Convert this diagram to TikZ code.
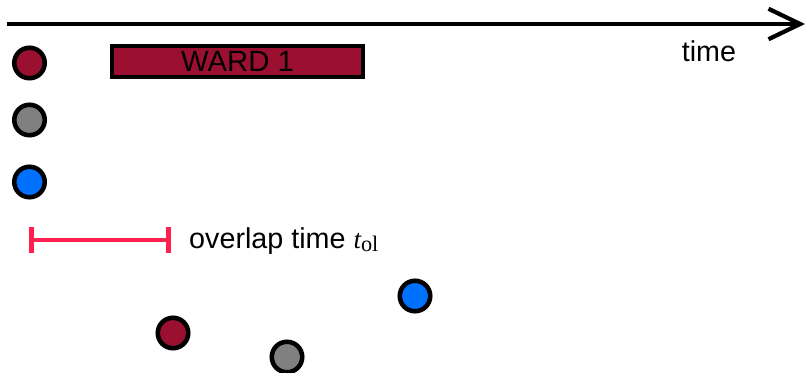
\documentclass[tikz,border=0pt]{standalone}
\usepackage{fontspec}
\setmainfont{Liberation Sans}
\newfontfamily\serifrm{Liberation Serif}
\usepackage{tikz}
\usetikzlibrary{arrows.meta}
\usepackage{xcolor}
\definecolor{wardred}{RGB}{155,16,48}
\definecolor{dotgray}{RGB}{128,128,128}
\definecolor{dotblue}{RGB}{0,112,255}
\definecolor{olpink}{RGB}{255,32,80}

\begin{document}
\begin{tikzpicture}[x=0.03cm,y=-0.03cm,font=\fontsize{24.5pt}{28pt}\selectfont,
  dot/.style={circle,draw=black,line width=3.9pt,minimum size=26pt,inner sep=0pt}]
\useasboundingbox (0,0) rectangle (808,373);
% time axis
\coordinate (t0) at (7,24);
\coordinate (t1) at (805,24);
\draw[line width=3.6pt,-{Straight Barb[length=27pt,width=26pt]}] (t0) -- (t1);
\node[anchor=base] (timelabel) at (709,62) {time};
% ward 1 stay
\node[draw=black,fill=wardred,line width=3.9pt,minimum width=214pt,minimum height=26.5pt,inner sep=0pt] (ward1) at (237.5,61.5) {\fontsize{25pt}{28pt}\selectfont WARD 1};
% legend dots
\node[dot,fill=wardred] (r1) at (29.5,63) {};
\node[dot,fill=dotgray] (g1) at (29.5,120) {};
\node[dot,fill=dotblue] (b1) at (29.5,182) {};
% overlap time
\coordinate (o0) at (29,240);
\coordinate (o1) at (171,240);
\draw[olpink,line width=3.9pt,{Bar[width=22pt]}-{Bar[width=22pt]}] (o0) -- (o1);
\node[anchor=base west,inner sep=0pt] (ollabel) at (189,249) {overlap time\ {\serifrm\itshape\fontsize{23pt}{26pt}\selectfont t}{\serifrm\fontsize{19pt}{22pt}\selectfont\raisebox{-2pt}{ol}}};
% contacts
\node[dot,fill=wardred] (r2) at (173,333) {};
\node[dot,fill=dotgray] (g2) at (287,357) {};
\node[dot,fill=dotblue] (b2) at (415,296) {};
\end{tikzpicture}
\end{document}
